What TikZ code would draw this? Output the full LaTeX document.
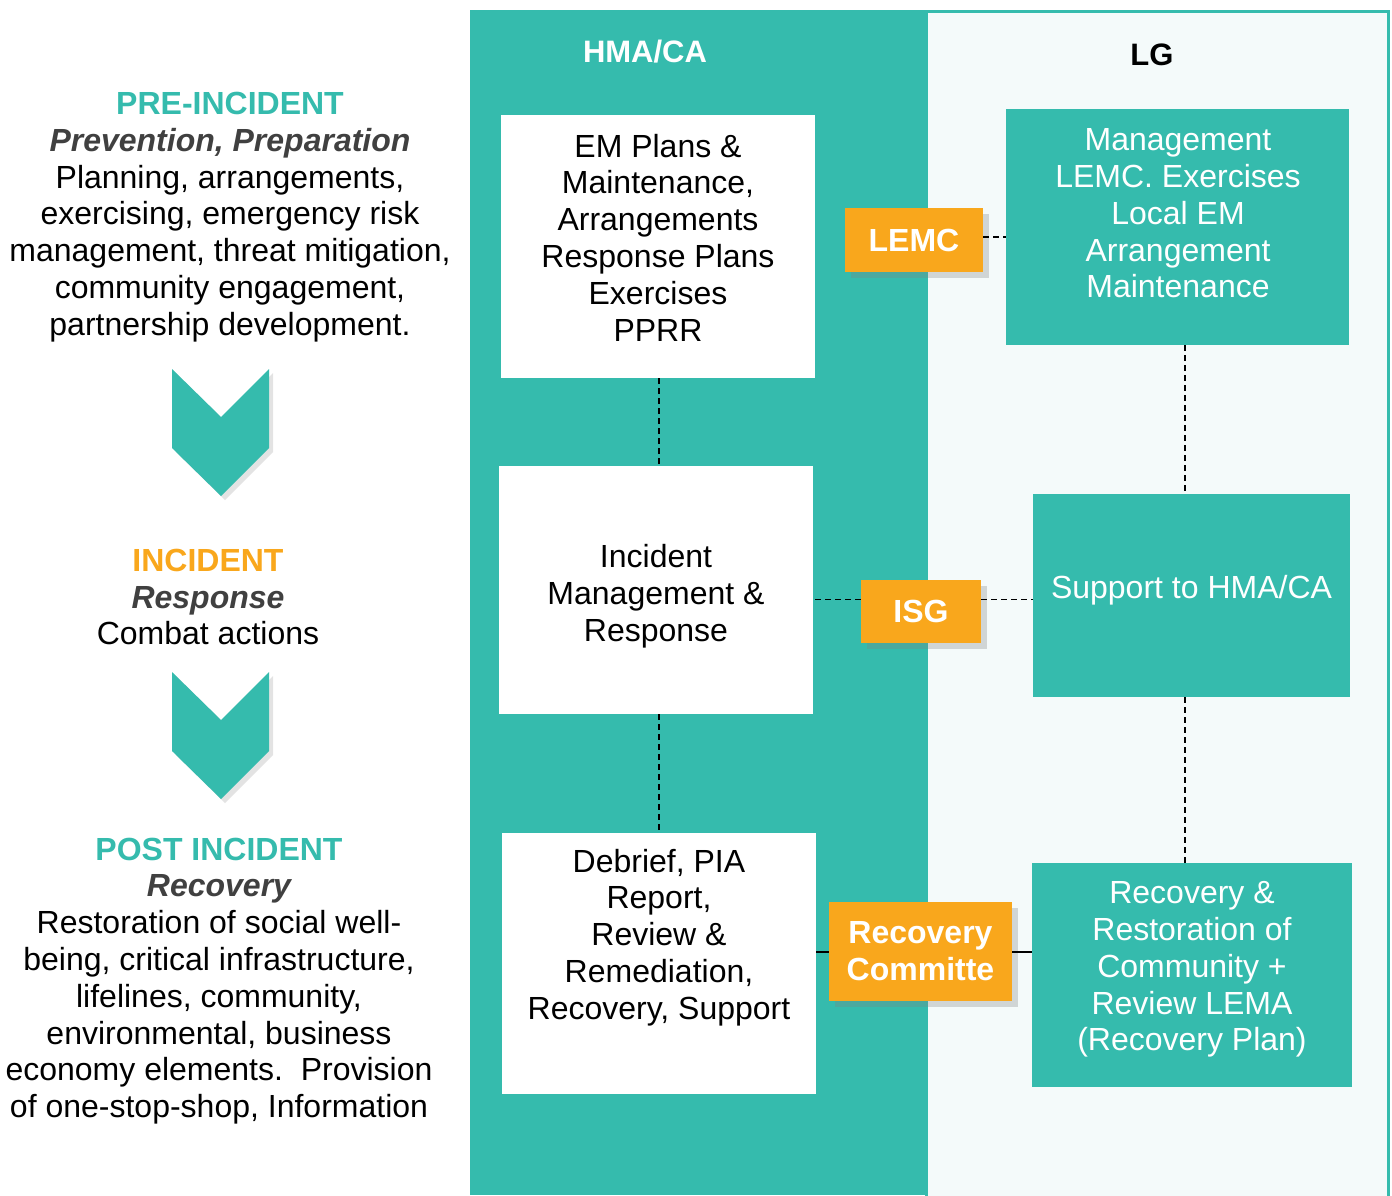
\documentclass[tikz,border=0pt]{standalone}
\usepackage{fontspec}
\setmainfont{Liberation Sans}
\usetikzlibrary{shadows}
\definecolor{hmateal}{RGB}{53,187,173}
\definecolor{lemcorange}{RGB}{249,167,28}
\definecolor{lgwash}{RGB}{244,250,250}
\definecolor{slate}{RGB}{64,64,64}
\newcommand{\phasehead}[2]{{\bfseries\color{#1}#2}}
\newcommand{\phasesub}[1]{{\bfseries\itshape\color{slate}#1}}
\tikzset{
  txt/.style={align=center,inner sep=0pt,yshift=-1.5pt,font=\fontsize{16}{18.4}\selectfont},
  wbox/.style={fill=white,inner sep=0pt},
  tbox/.style={fill=hmateal,inner sep=0pt},
  obox/.style={fill=lemcorange,inner sep=0pt,text=white,align=center,
    font=\fontsize{16}{18.5}\selectfont\bfseries,
    drop shadow={shadow xshift=3pt,shadow yshift=-3pt,opacity=.3}},
  chev/.style={fill=hmateal,drop shadow={shadow xshift=2pt,shadow yshift=-2pt,opacity=.22}},
  dline/.style={dash pattern=on 3pt off 2pt,line width=0.9pt},
  sline/.style={line width=1pt},
  head/.style={font=\fontsize{15.5}{18}\selectfont\bfseries}
}
\begin{document}
\begin{tikzpicture}[x=0.5pt,y=-0.5pt]
  \useasboundingbox (0,0) rectangle (1392,1195);
  % the two columns
  \fill[hmateal] (470,10) rectangle (926,1195);
  \draw[hmateal,fill=lgwash,line width=1.5pt] (926,11) rectangle (1388,1205);
  \node[head,text=white] (hma) at (645,52) {HMA/CA};
  \node[head] (lg) at (1152,55) {LG};

  % phase descriptions on the left
  \node[txt] (pre) at (230,214) {\phasehead{hmateal}{PRE-INCIDENT}\\ \phasesub{Prevention, Preparation}\\ Planning, arrangements,\\ exercising, emergency risk\\ management, threat mitigation,\\ community engagement,\\ partnership development.};
  \node[txt] (inc) at (208,594) {\phasehead{lemcorange}{INCIDENT}\\ \phasesub{Response}\\ Combat actions};
  \node[txt] (post) at (219,978) {\phasehead{hmateal}{POST INCIDENT}\\ \phasesub{Recovery}\\ Restoration of social well-\\ being, critical infrastructure,\\ lifelines, community,\\ environmental, business\\ economy elements.\ \ Provision\\ of one-stop-shop, Information};
  \foreach \t in {369,672}
    \fill[chev] (172,\t) -- (221,\t+48) -- (269,\t) -- (269,\t+79) -- (221,\t+127) -- (172,\t+79) -- cycle;

  % HMA/CA column
  \node[wbox,minimum width=157pt,minimum height=131.5pt] (em) at (658,246.5) {};
  \node[txt] (emt) at (658,234.5) {EM Plans \&\\ Maintenance,\\ Arrangements\\ Response Plans\\ Exercises\\ PPRR};
  \node[wbox,minimum width=157pt,minimum height=124pt] (resp) at (656,590) {};
  \node[txt] (respt) at (656,593) {Incident\\ Management \&\\ Response};
  \node[wbox,minimum width=157pt,minimum height=130.5pt] (debrief) at (659,963.5) {};
  \node[txt] (debrieft) at (659,934.5) {Debrief, PIA\\ Report,\\ Review \&\\ Remediation,\\ Recovery, Support};

  % LG column
  \node[tbox,minimum width=171.5pt,minimum height=118pt] (mgmt) at (1177.5,227) {};
  \node[txt,text=white] (mgmtt) at (1178,210.5) {Management\\ LEMC. Exercises\\ Local EM\\ Arrangement\\ Maintenance};
  \node[tbox,minimum width=158.5pt,minimum height=101.5pt] (support) at (1191.5,595.5) {};
  \node[txt,text=white] (supportt) at (1191.5,587) {Support to HMA/CA};
  \node[tbox,minimum width=160pt,minimum height=112pt] (recov) at (1192,975) {};
  \node[txt,text=white] (recovt) at (1192,966.5) {Recovery \&\\ Restoration of\\ Community +\\ Review LEMA\\ (Recovery Plan)};
  \coordinate (lgaxis) at (1185,0);
  \coordinate (hmaaxis) at (659,0);

  % links between the columns
  \node[obox,minimum width=69pt,minimum height=32pt] (lemc) at (914,240) {LEMC};
  \node[obox,minimum width=60pt,minimum height=31.5pt] (isg) at (921,611.5) {ISG};
  \node[obox,minimum width=91.5pt,minimum height=49.5pt] (rcomm) at (920.5,951.5) {Recovery\\ Committe};

  \draw[dline] ([yshift=1.5pt]lemc.east) -- ([yshift=1.5pt]lemc.east -| mgmt.west);
  \draw[dline] ([yshift=6pt]isg.west) -- ([yshift=6pt]isg.west -| resp.east);
  \draw[dline] ([yshift=6pt]isg.east) -- ([yshift=6pt]isg.east -| support.west);
  \draw[sline] (rcomm.west) -- (rcomm.west -| debrief.east);
  \draw[sline] (rcomm.east) -- (rcomm.east -| recov.west);
  \draw[dline] (em.south -| hmaaxis) -- (resp.north -| hmaaxis);
  \draw[dline] (resp.south -| hmaaxis) -- (debrief.north -| hmaaxis);
  \draw[dline] (mgmt.south -| lgaxis) -- (support.north -| lgaxis);
  \draw[dline] (support.south -| lgaxis) -- (recov.north -| lgaxis);
\end{tikzpicture}
\end{document}
